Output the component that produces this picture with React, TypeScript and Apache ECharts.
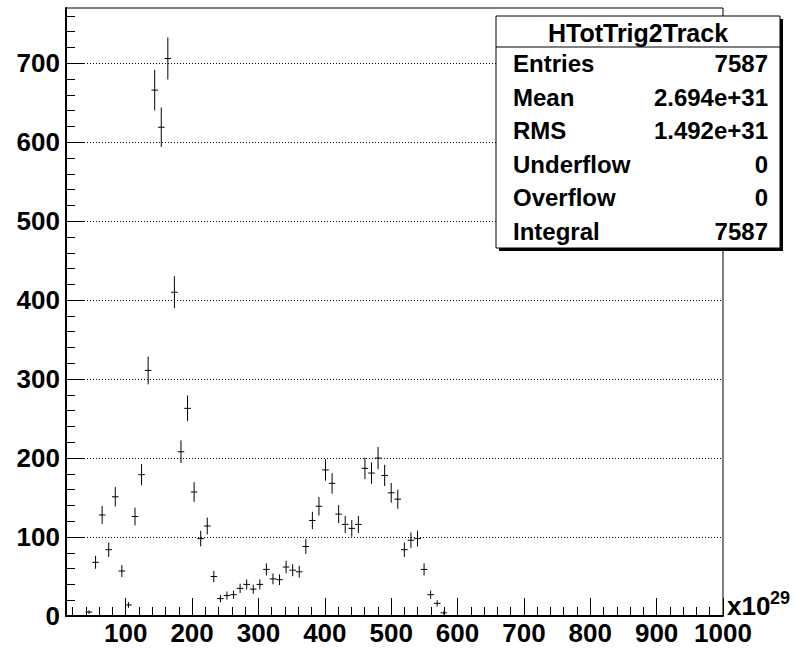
import React, { useEffect, useRef } from "react";
import * as echarts from "echarts";

// Histogram definition (x in units of 10^29)
const X_MIN = 10;
const X_MAX = 1000;
const BIN_WIDTH = 9.9;
const FIRST_FILLED_BIN = 3;
const Y_MAX = 770;

// Bin contents, starting at bin FIRST_FILLED_BIN
const counts = [
  5, 68, 128, 84, 151, 57, 14, 126, 179, 311, 666, 619, 706, 410, 208, 263, 157, 98, 114, 50,
  22, 26, 27, 35, 40, 34, 40, 59, 47, 46, 62, 58, 56, 88, 121, 139, 185, 168, 129, 116,
  111, 116, 187, 181, 200, 178, 156, 148, 84, 96, 98, 59, 27, 16, 4,
];

const xMajorTicks = [100, 200, 300, 400, 500, 600, 700, 800, 900, 1000];
const yMajorTicks = [0, 100, 200, 300, 400, 500, 600, 700];

const statsTitle = "HTotTrig2Track";
const statsLabels = ["Entries", "Mean", "RMS", "Underflow", "Overflow", "Integral"];
const statsValues = ["7587", "2.694e+31", "1.492e+31", "0", "0", "7587"];

const FONT = "'Liberation Sans', Arial, Helvetica, sans-serif";

function minorValues(from: number, to: number, step: number, majorStep: number) {
  const out: number[] = [];
  for (let v = from; v <= to + 1e-9; v += step) {
    const r = Math.round(v);
    if (r % majorStep !== 0) out.push(r);
  }
  return out;
}

export default function App() {
  const ref = useRef<HTMLDivElement>(null);

  useEffect(() => {
    if (!ref.current) return;
    const chart = echarts.init(ref.current, undefined, { renderer: "svg" });

    const data = counts.map((c, i) => [X_MIN + BIN_WIDTH * (FIRST_FILLED_BIN + i + 0.5), c]);
    const xMinor = minorValues(20, 980, 20, 100);
    const yMinor = minorValues(20, 760, 20, 100);

    const labelStyle = {
      fontFamily: FONT,
      fontWeight: "bold" as const,
      fontSize: 26,
      color: "#000",
      formatter: (v: number) => String(v),
    };

    const boxX = 496, boxY = 16, boxW = 284, boxH = 232, titleH = 31;
    const rowH = (boxH - titleH) / statsLabels.length;

    const graphics: any[] = [
      { type: "rect", shape: { x: boxX + 3, y: boxY + 3, width: boxW, height: boxH }, style: { fill: "#000" }, z: 100 },
      { type: "rect", shape: { x: boxX, y: boxY, width: boxW, height: boxH }, style: { fill: "#fff", stroke: "#000", lineWidth: 1 }, z: 101 },
      { type: "line", shape: { x1: boxX, y1: boxY + titleH, x2: boxX + boxW, y2: boxY + titleH }, style: { stroke: "#000", lineWidth: 1 }, z: 102 },
      {
        type: "text", x: boxX + boxW / 2, y: boxY + titleH / 2 + 1, z: 103,
        style: { text: statsTitle, fill: "#000", font: `bold 25px ${FONT}`, textAlign: "center", textVerticalAlign: "middle" },
      },
      {
        type: "text", x: 727, y: 606, z: 103,
        style: { text: "x10", fill: "#000", font: `bold 26px ${FONT}`, textAlign: "left", textVerticalAlign: "middle" },
      },
      {
        type: "text", x: 770, y: 598, z: 103,
        style: { text: "29", fill: "#000", font: `bold 18px ${FONT}`, textAlign: "left", textVerticalAlign: "middle" },
      },
    ];
    statsLabels.forEach((lab, i) => {
      const cy = boxY + titleH + rowH * (i + 0.5);
      graphics.push({
        type: "text", x: boxX + 17, y: cy, z: 103,
        style: { text: lab, fill: "#000", font: `bold 24px ${FONT}`, textAlign: "left", textVerticalAlign: "middle" },
      });
      graphics.push({
        type: "text", x: boxX + boxW - 12, y: cy, z: 103,
        style: { text: statsValues[i], fill: "#000", font: `bold 24px ${FONT}`, textAlign: "right", textVerticalAlign: "middle" },
      });
    });

    chart.setOption({
      animation: false,
      backgroundColor: "#fff",
      grid: { left: 66, right: 72, top: 8, bottom: 32, show: true, borderColor: "#000", borderWidth: 1, backgroundColor: "transparent" },
      xAxis: [
        {
          type: "value", min: X_MIN, max: X_MAX, position: "bottom",
          axisLine: { show: true, onZero: false, lineStyle: { color: "#000", width: 2 } },
          axisTick: { show: true, inside: true, length: 18, customValues: xMajorTicks, lineStyle: { color: "#000", width: 1 } },
          axisLabel: { show: true, customValues: xMajorTicks, margin: 4, ...labelStyle },
          splitLine: { show: false },
        },
        {
          type: "value", min: X_MIN, max: X_MAX, position: "bottom",
          axisLine: { show: false, onZero: false },
          axisTick: { show: true, inside: true, length: 9, customValues: xMinor, lineStyle: { color: "#000", width: 1 } },
          axisLabel: { show: false },
          splitLine: { show: false },
        },
      ],
      yAxis: [
        {
          type: "value", min: 0, max: Y_MAX, interval: 100, position: "left",
          axisLine: { show: true, onZero: false, lineStyle: { color: "#000", width: 2 } },
          axisTick: { show: true, inside: true, length: 18, customValues: yMajorTicks, lineStyle: { color: "#000", width: 1 } },
          axisLabel: { show: true, customValues: yMajorTicks, margin: 6, ...labelStyle },
          splitLine: { show: true, lineStyle: { color: "#000", width: 1, type: [1, 2] } },
        },
        {
          type: "value", min: 0, max: Y_MAX, position: "left",
          axisLine: { show: false, onZero: false },
          axisTick: { show: true, inside: true, length: 9, customValues: yMinor, lineStyle: { color: "#000", width: 1 } },
          axisLabel: { show: false },
          splitLine: { show: false },
        },
      ],
      series: [
        {
          type: "custom",
          xAxisIndex: 0,
          yAxisIndex: 0,
          data,
          clip: true,
          renderItem: (params: any, api: any) => {
            const x = api.value(0);
            const y = api.value(1);
            const e = Math.sqrt(y);
            const c = api.coord([x, y]);
            const lo = api.coord([x, y - e]);
            const hi = api.coord([x, y + e]);
            const l = api.coord([x - BIN_WIDTH / 2, y]);
            const r = api.coord([x + BIN_WIDTH / 2, y]);
            const st = { stroke: "#000", lineWidth: 1 };
            return {
              type: "group",
              children: [
                { type: "line", shape: { x1: c[0], y1: lo[1], x2: c[0], y2: hi[1] }, style: st },
                { type: "line", shape: { x1: l[0], y1: c[1], x2: r[0], y2: c[1] }, style: st },
              ],
            };
          },
        },
      ],
      graphic: graphics,
    });

    return () => chart.dispose();
  }, []);

  return <div ref={ref} style={{ position: "fixed", left: 0, top: 0, width: 795, height: 648, background: "#fff" }} />;
}
